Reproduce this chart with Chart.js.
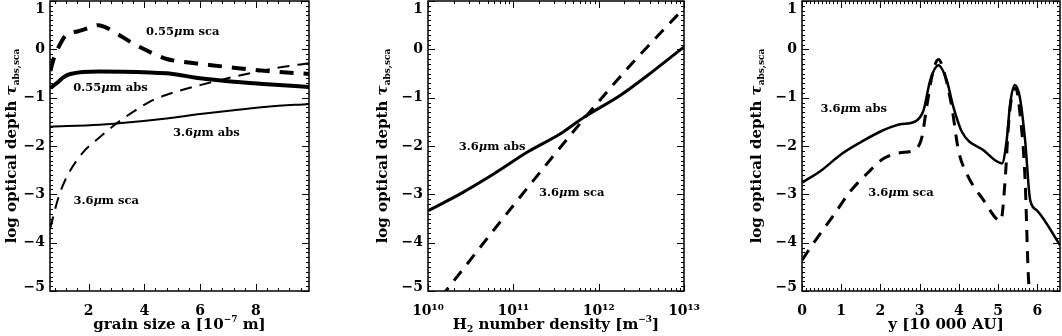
<!DOCTYPE html>
<html>
<head>
<meta charset="utf-8">
<script src="https://cdn.jsdelivr.net/npm/chart.js@4.4.1/dist/chart.umd.min.js"></script>
<style>
  body { margin: 0; background: #fff; width: 1062px; height: 336px; position: relative; overflow: hidden; }
  canvas { position: absolute; top: 0; }
</style>
</head>
<body>
<canvas id="c1" width="325" height="336" style="left:0px"></canvas>
<canvas id="c2" width="355" height="336" style="left:345px"></canvas>
<canvas id="c3" width="342" height="336" style="left:720px"></canvas>
<script>
// ---- panel 1: optical depth vs grain size ----
const grainSca055 = [0.63, 0.75, 0.95, 1.2, 1.6, 2.0, 2.35, 2.6, 3.0, 3.6, 4.0, 4.4, 4.8, 5.4, 6.0, 7.2, 8.4, 9.9];
const tauSca055 = [-0.45, -0.2, 0.07, 0.3, 0.37, 0.44, 0.5, 0.46, 0.33, 0.12, 0.0, -0.11, -0.2, -0.26, -0.3, -0.38, -0.45, -0.51];
const grainAbs055 = [0.63, 0.9, 1.1, 1.35, 2.4, 4.2, 4.9, 6.0, 7.2, 8.4, 9.9];
const tauAbs055 = [-0.8, -0.68, -0.58, -0.51, -0.46, -0.48, -0.5, -0.6, -0.67, -0.72, -0.78];
const grainAbs36 = [0.63, 2.4, 4.8, 6.0, 7.2, 8.4, 9.9];
const tauAbs36 = [-1.6, -1.56, -1.43, -1.34, -1.26, -1.19, -1.13];
const grainSca36 = [0.63, 0.93, 1.23, 1.82, 2.42, 3.01, 3.61, 4.2, 4.8, 6.0, 7.2, 8.4, 9.0, 9.9];
const tauSca36 = [-3.7, -3.05, -2.63, -2.12, -1.81, -1.53, -1.29, -1.08, -0.94, -0.74, -0.57, -0.42, -0.36, -0.29];
const grainTicks = [2, 4, 6, 8];

// ---- panel 2: optical depth vs H2 density ----
const densAbs = [1.0e10, 2.45e10, 6.0e10, 1.48e11, 3.6e11, 6.8e11, 1.8e12, 4.5e12, 1.0e13];
const tauAbsDens = [-3.34, -2.98, -2.57, -2.12, -1.74, -1.40, -0.95, -0.43, 0.05];
const densSca = [1.0e10, 1.62e10, 1.0e11, 7.1e11, 2.5e12, 1.0e13];
const tauScaDens = [-5.47, -5.0, -3.23, -1.39, -0.28, 0.85];
const densTicks = [1e10, 1e11, 1e12, 1e13];

// ---- panel 3: optical depth along y ----
const yAbs = [0, 0.5, 1.0, 1.5, 2.0, 2.3, 2.5, 2.89, 3.1, 3.27, 3.48, 3.69, 3.86, 4.08, 4.63, 5.1, 5.22, 5.31, 5.43, 5.56, 5.69, 5.82, 5.99, 6.58];
const tauAbsY = [-2.76, -2.5, -2.17, -1.92, -1.7, -1.6, -1.55, -1.49, -1.26, -0.64, -0.33, -0.64, -1.19, -1.71, -2.09, -2.36, -1.88, -1.12, -0.74, -1.01, -1.88, -3.12, -3.33, -4.05];
const yScaPos = [0, 0.38, 0.81, 1.23, 1.66, 2.08, 2.5, 2.84, 3.06, 3.18, 3.35, 3.48, 3.61, 3.82, 3.99, 4.2, 4.63, 5.07, 5.18, 5.27, 5.39, 5.45, 5.56, 5.69, 5.77, 5.84];
const tauScaY = [-4.36, -3.91, -3.43, -2.94, -2.57, -2.26, -2.14, -2.09, -1.81, -1.19, -0.43, -0.21, -0.43, -1.19, -2.09, -2.57, -3.12, -3.55, -2.71, -1.53, -0.84, -0.8, -1.33, -2.71, -4.64, -5.4];
const yTicks = [0, 1, 2, 3, 4, 5, 6];

const tauTicks = [-5, -4, -3, -2, -1, 0, 1];

const FONT = '"DejaVu Serif", "Liberation Serif", serif';

function pts(xs, ys) { return xs.map((x, i) => ({ x: x, y: ys[i] })); }

function minus(v) { return String(v).replace('-', '\u2212'); }

function fontOf(size, italic) { return (italic ? 'italic ' : '') + 'bold ' + size + 'px ' + FONT; }

// parts: {t, sup, sub, it}
function richWidth(ctx, parts, size) {
  let w = 0;
  parts.forEach(p => {
    const s = p.sup || p.sub ? Math.round(size * 0.62) : size;
    ctx.font = fontOf(s, p.it);
    w += ctx.measureText(p.t).width;
  });
  return w;
}

function drawRich(ctx, parts, x, y, size, align) {
  let cx = x;
  if (align === 'center') cx = x - richWidth(ctx, parts, size) / 2;
  if (align === 'right') cx = x - richWidth(ctx, parts, size);
  ctx.textBaseline = 'middle';
  ctx.textAlign = 'left';
  parts.forEach(p => {
    const s = p.sup || p.sub ? Math.round(size * 0.62) : size;
    const dy = p.sup ? -size * 0.38 : p.sub ? size * 0.32 : 0;
    ctx.font = fontOf(s, p.it);
    ctx.fillText(p.t, cx, y + dy);
    cx += ctx.measureText(p.t).width;
  });
}

function lbl(a, b) { return [{ t: a }, { t: '\u03bc', it: true }, { t: b }]; }

const framePlugin = {
  id: 'frame',
  afterDraw(chart, args, o) {
    const ctx = chart.ctx, a = chart.chartArea;
    const xs = chart.scales.x, ys = chart.scales.y;
    ctx.save();
    ctx.strokeStyle = '#000';
    ctx.fillStyle = '#000';
    ctx.lineWidth = 1;
    const xt = (v, len) => {
      const p = Math.round(xs.getPixelForValue(v)) + 0.5;
      ctx.beginPath();
      ctx.moveTo(p, a.bottom); ctx.lineTo(p, a.bottom - len);
      ctx.moveTo(p, a.top); ctx.lineTo(p, a.top + len);
      ctx.stroke();
    };
    const yt = (v, len) => {
      const p = Math.round(ys.getPixelForValue(v)) + 0.5;
      ctx.beginPath();
      ctx.moveTo(a.left, p); ctx.lineTo(a.left + len, p);
      ctx.moveTo(a.right, p); ctx.lineTo(a.right - len, p);
      ctx.stroke();
    };
    o.xMinor.forEach(v => xt(v, 3));
    o.xMajor.forEach(v => xt(v, 7));
    o.yMinor.forEach(v => yt(v, 3));
    o.yMajor.forEach(v => yt(v, 7));
    ctx.lineWidth = 1.5;
    ctx.strokeRect(a.left, a.top, a.right - a.left, a.bottom - a.top);

    // y tick labels, kept inside the frame like the original plot
    tauTicks.forEach(v => {
      let py = ys.getPixelForValue(v);
      py = Math.min(Math.max(py, a.top + 8), a.bottom - 4);
      drawRich(ctx, [{ t: minus(v) }], a.left - 5, py, 14, 'right');
    });

    o.labels.forEach(l => {
      drawRich(ctx, l.parts, xs.getPixelForValue(l.x), ys.getPixelForValue(l.y), 11.5, 'left');
    });
    drawRich(ctx, o.xTitle, (a.left + a.right) / 2 + (o.xShift || 0), 325, 15, 'center');
    ctx.translate(o.yTitleX, (a.top + a.bottom) / 2);
    ctx.rotate(-Math.PI / 2);
    drawRich(ctx, [{ t: 'log optical depth ' }, { t: '\u03c4', it: true }, { t: 'abs,sca', sub: true }], 0, 0, 15, 'center');
    ctx.restore();
  }
};

function yMinorTicks() {
  const out = [];
  for (let i = -50; i <= 10; i++) if (i % 10 !== 0) out.push(i / 10);
  return out;
}

function makeChart(id, cfg) {
  const tickFont = { family: FONT, size: 14, weight: 'bold' };
  new Chart(document.getElementById(id), {
    type: 'line',
    data: { datasets: cfg.datasets },
    plugins: [framePlugin],
    options: {
      responsive: false,
      animation: false,
      layout: { padding: { top: 1, right: cfg.padRight, left: 0, bottom: 0 } },
      elements: { point: { radius: 0 }, line: { cubicInterpolationMode: 'monotone', borderColor: '#000', fill: false } },
      plugins: {
        legend: { display: false },
        tooltip: { enabled: false },
        frame: cfg.frame
      },
      scales: {
        x: {
          type: cfg.xType,
          min: cfg.xMin,
          max: cfg.xMax,
          afterBuildTicks: s => { s.ticks = cfg.xTicks.map(v => ({ value: v })); },
          ticks: { callback: cfg.xLabel, font: tickFont, color: '#000', padding: 4, maxRotation: 0, autoSkip: false },
          grid: { display: false },
          border: { display: false },
          afterFit: s => { s.height = 45; s.paddingLeft = 0; s.paddingRight = 0; }
        },
        y: {
          type: 'linear',
          min: -5,
          max: 1,
          afterBuildTicks: s => { s.ticks = tauTicks.map(v => ({ value: v })); },
          ticks: { display: false },
          grid: { display: false },
          border: { display: false },
          afterFit: s => { s.width = cfg.yWidth; s.paddingTop = 0; s.paddingBottom = 0; }
        }
      }
    }
  });
}

// panel 1
const g1Minor = [];
for (let v = 0.8; v < 9.9; v += 0.4) { const r = Math.round(v * 10) / 10; if (grainTicks.indexOf(r) < 0) g1Minor.push(r); }
makeChart('c1', {
  xType: 'linear', xMin: 0.62, xMax: 9.9, xTicks: grainTicks, xLabel: v => String(v),
  padRight: 16, yWidth: 50,
  datasets: [
    { data: pts(grainSca055, tauSca055), borderWidth: 4, borderDash: [14, 10] },
    { data: pts(grainAbs055, tauAbs055), borderWidth: 4 },
    { data: pts(grainAbs36, tauAbs36), borderWidth: 2 },
    { data: pts(grainSca36, tauSca36), borderWidth: 2, borderDash: [12, 8] }
  ],
  frame: {
    xMajor: grainTicks, xMinor: g1Minor, yMajor: tauTicks, yMinor: yMinorTicks(),
    yTitleX: 12,
    xTitle: [{ t: 'grain size a [10' }, { t: '\u22127', sup: true }, { t: ' m]' }],
    labels: [
      { x: 4.06, y: 0.36, parts: lbl('0.55', 'm sca') },
      { x: 1.45, y: -0.8, parts: lbl('0.55', 'm abs') },
      { x: 5.03, y: -1.73, parts: lbl('3.6', 'm abs') },
      { x: 1.46, y: -3.14, parts: lbl('3.6', 'm sca') }
    ]
  }
});

// panel 2
const sup = { '0': '\u2070', '1': '\u00b9', '2': '\u00b2', '3': '\u00b3' };
const d2Minor = [];
for (let e = 10; e < 13; e++) for (let k = 2; k <= 9; k++) d2Minor.push(k * Math.pow(10, e));
makeChart('c2', {
  xType: 'logarithmic', xMin: 1e10, xMax: 1e13, xTicks: densTicks,
  xLabel: v => '10' + String(Math.round(Math.log10(v))).split('').map(c => sup[c]).join(''),
  padRight: 16, yWidth: 83,
  datasets: [
    { data: pts(densAbs, tauAbsDens), borderWidth: 3 },
    { data: pts(densSca, tauScaDens), borderWidth: 3, borderDash: [12, 9] }
  ],
  frame: {
    xMajor: densTicks, xMinor: d2Minor, yMajor: tauTicks, yMinor: yMinorTicks(),
    yTitleX: 38,
    xTitle: [{ t: 'H' }, { t: '2', sub: true }, { t: ' number density [m' }, { t: '\u22123', sup: true }, { t: ']' }],
    labels: [
      { x: 2.3e10, y: -2.03, parts: lbl('3.6', 'm abs') },
      { x: 2.0e11, y: -2.97, parts: lbl('3.6', 'm sca') }
    ]
  }
});

// panel 3
const y3Minor = [];
for (let i = 1; i < 66; i++) if (i % 10 !== 0) y3Minor.push(i / 10);
makeChart('c3', {
  xType: 'linear', xMin: 0, xMax: 6.58, xTicks: yTicks, xLabel: v => String(v),
  padRight: 2, yWidth: 82,
  datasets: [
    { data: pts(yAbs, tauAbsY), borderWidth: 2.5 },
    { data: pts(yScaPos, tauScaY), borderWidth: 3, borderDash: [12, 9] }
  ],
  frame: {
    xMajor: yTicks, xMinor: y3Minor, yMajor: tauTicks, yMinor: yMinorTicks(),
    yTitleX: 37, xShift: 15,
    xTitle: [{ t: 'y [10 000 AU]' }],
    labels: [
      { x: 0.47, y: -1.24, parts: lbl('3.6', 'm abs') },
      { x: 1.69, y: -2.97, parts: lbl('3.6', 'm sca') }
    ]
  }
});
</script>
</body>
</html>
